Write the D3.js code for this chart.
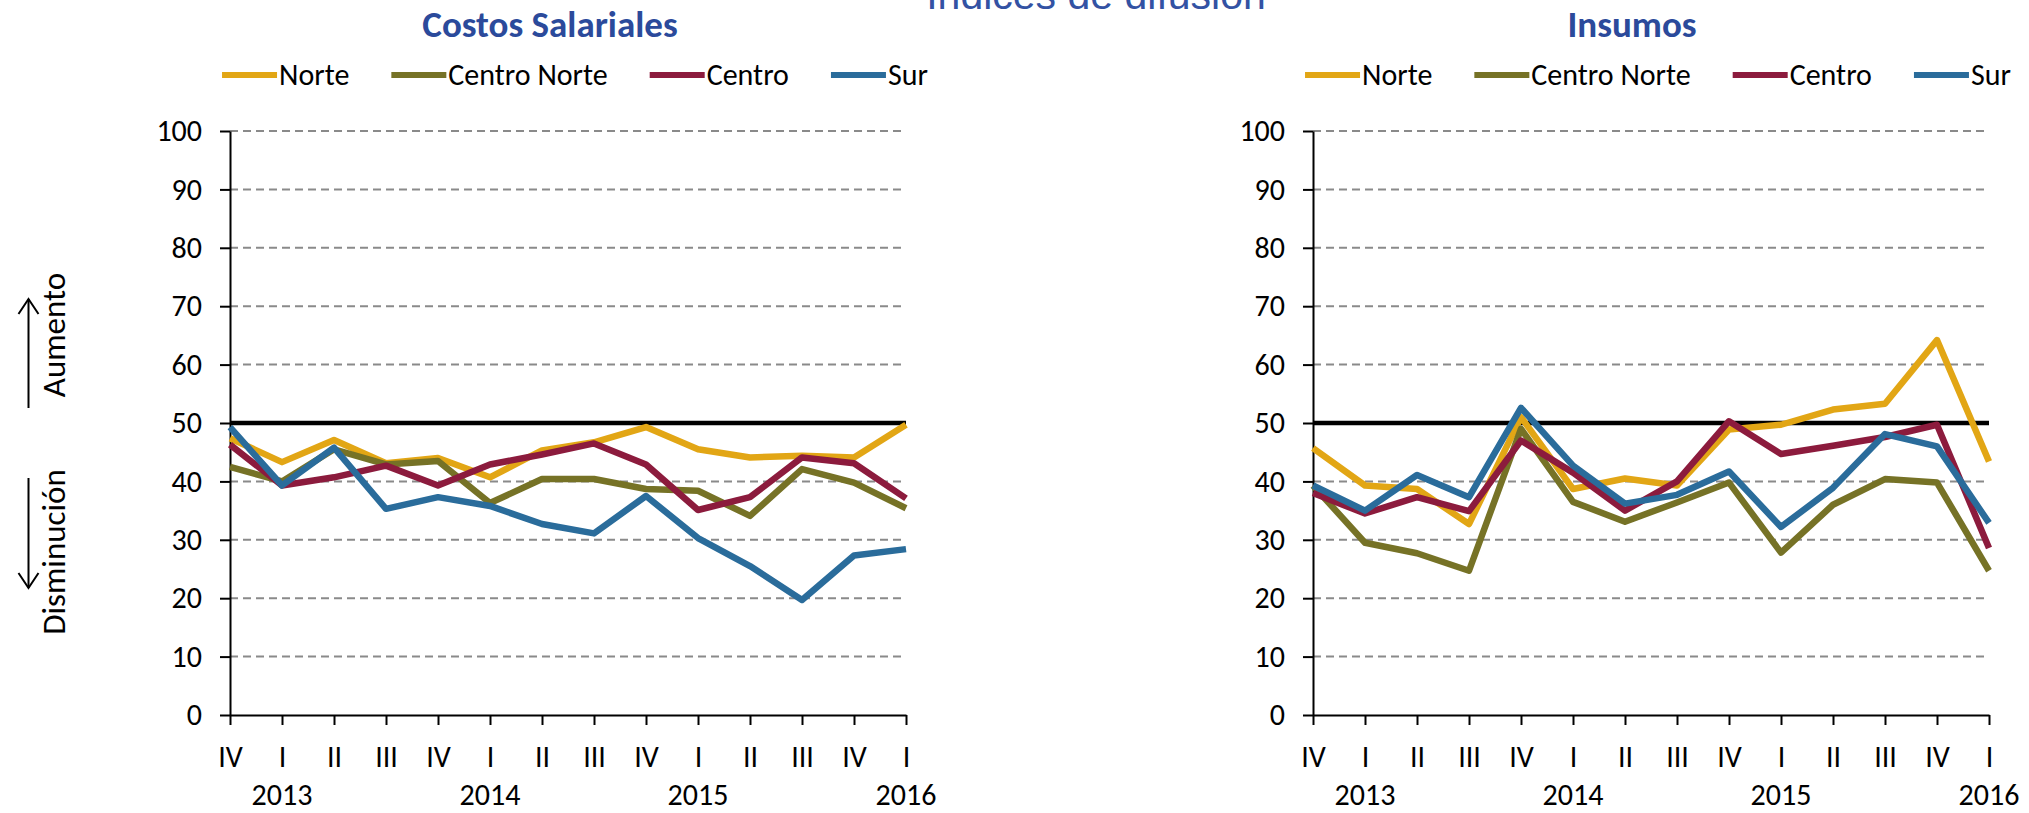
<!DOCTYPE html>
<html>
<head>
<meta charset="utf-8">
<script src="https://cdn.jsdelivr.net/npm/d3@7"></script>
<style>
  html, body { margin: 0; padding: 0; background: #fff; }
  svg text { font-family: Carlito, Lato, "Noto Sans", sans-serif; }
</style>
</head>
<body>
<svg id="chart" width="2029" height="813"></svg>
<script>
// Quarters shown on the x axis (year-quarter)
const periods = ["2012-IV", "2013-I", "2013-II", "2013-III", "2013-IV",
                 "2014-I", "2014-II", "2014-III", "2014-IV",
                 "2015-I", "2015-II", "2015-III", "2015-IV", "2016-I"];

const regions = ["Norte", "Centro Norte", "Centro", "Sur"];
const regionColors = ["#E2A615", "#767226", "#8C1B3D", "#2A6C9B"];

const yTicks = [0, 10, 20, 30, 40, 50, 60, 70, 80, 90, 100];
const threshold = 50;

// Costos Salariales
const salNorte       = [47.4, 43.3, 47.1, 43.1, 44.0, 40.7, 45.3, 46.7, 49.3, 45.5, 44.1, 44.4, 44.1, 49.7];
const salCentroNorte = [42.5, 40.0, 45.5, 42.9, 43.5, 36.3, 40.4, 40.4, 38.7, 38.4, 34.1, 42.1, 39.8, 35.4];
const salCentro      = [46.3, 39.3, 40.7, 42.7, 39.3, 42.9, 44.6, 46.5, 42.9, 35.1, 37.3, 44.1, 43.1, 37.1];
const salSur         = [49.3, 39.3, 45.8, 35.3, 37.3, 35.8, 32.7, 31.1, 37.5, 30.3, 25.5, 19.7, 27.3, 28.4];

// Insumos
const insNorte       = [45.7, 39.3, 38.7, 32.7, 51.0, 38.7, 40.5, 39.3, 48.9, 49.7, 52.3, 53.3, 64.2, 43.4];
const insCentroNorte = [39.3, 29.5, 27.7, 24.7, 49.0, 36.5, 33.1, 36.4, 39.8, 27.8, 36.0, 40.4, 39.8, 24.7];
const insCentro      = [38.0, 34.5, 37.3, 34.9, 47.0, 41.5, 35.0, 40.0, 50.3, 44.7, 46.1, 47.6, 49.7, 28.6];
const insSur         = [39.3, 35.0, 41.1, 37.3, 52.6, 42.7, 36.2, 37.7, 41.7, 32.2, 38.9, 48.1, 46.0, 32.9];

const panels = [
  { title: "Costos Salariales", series: [salNorte, salCentroNorte, salCentro, salSur],
    left: 230, right: 906, titleX: 550 },
  { title: "Insumos", series: [insNorte, insCentroNorte, insCentro, insSur],
    left: 1313, right: 1989, titleX: 1632 }
];

const plotTop = 131, plotBottom = 715;
const labelFont = "Carlito, Lato, 'Noto Sans', sans-serif";
const svg = d3.select("#chart");

svg.append("rect").attr("width", 2029).attr("height", 813).attr("fill", "#fff");

// Overall heading, partly clipped by the top edge
svg.append("text")
  .attr("x", 1096).attr("y", 9)
  .attr("text-anchor", "middle")
  .style("font-family", "'Liberation Sans', Arial, sans-serif")
  .style("font-size", "41px")
  .attr("fill", "#3352A3")
  .text("Índices de difusión");

// Direction hints on the far left
const hint = svg.append("g");
function arrow(x, yFrom, yTo) {
  hint.append("line").attr("x1", x).attr("x2", x).attr("y1", yFrom).attr("y2", yTo)
    .attr("stroke", "#000").attr("stroke-width", 2);
  const dir = yTo < yFrom ? 1 : -1;
  hint.append("path")
    .attr("d", `M${x - 10},${yTo + dir * 15} L${x},${yTo} L${x + 10},${yTo + dir * 15}`)
    .attr("fill", "none").attr("stroke", "#000").attr("stroke-width", 2);
}
arrow(28.5, 408, 299);
arrow(28.5, 478, 588);
hint.append("text")
  .attr("transform", "translate(65,335) rotate(-90)")
  .attr("text-anchor", "middle")
  .style("font-size", "33px")
  .text("Aumento");
hint.append("text")
  .attr("transform", "translate(65,552) rotate(-90)")
  .attr("text-anchor", "middle")
  .style("font-size", "33px")
  .text("Disminución");

panels.forEach(p => {
  const g = svg.append("g");
  const x = d3.scalePoint().domain(periods).range([p.left, p.right]);
  const y = d3.scaleLinear().domain([0, 100]).range([plotBottom, plotTop]);

  // Title
  g.append("text")
    .attr("x", p.titleX).attr("y", 37)
    .attr("text-anchor", "middle")
    .style("font-size", "37px").style("font-weight", "bold")
    .attr("fill", "#2B4A9B")
    .text(p.title);

  // Legend, centred over the plot
  const legend = g.append("g");
  let cursor = 0;
  const gap = 42;
  regions.forEach((name, i) => {
    const item = legend.append("g").attr("transform", `translate(${cursor},0)`);
    item.append("line").attr("x1", 0).attr("x2", 55).attr("y1", 75).attr("y2", 75)
      .attr("stroke", regionColors[i]).attr("stroke-width", 6);
    const t = item.append("text").attr("x", 57).attr("y", 85)
      .style("font-size", "30px").attr("fill", "#000").text(name);
    cursor += 57 + t.node().getComputedTextLength() + gap;
  });
  const legendWidth = cursor - gap;
  const legendCenter = (p.left + p.right) / 2 + 7;
  legend.attr("transform", `translate(${legendCenter - legendWidth / 2},0)`);

  // Dashed gridlines
  g.append("g").selectAll("line")
    .data(yTicks.filter(v => v > 0))
    .join("line")
    .attr("x1", p.left).attr("x2", p.right)
    .attr("y1", d => y(d)).attr("y2", d => y(d))
    .attr("stroke", "#8a8a8a").attr("stroke-width", 2)
    .attr("stroke-dasharray", "8,5");

  // Neutral 50 reference line
  g.append("line")
    .attr("x1", p.left).attr("x2", p.right)
    .attr("y1", y(threshold)).attr("y2", y(threshold))
    .attr("stroke", "#000").attr("stroke-width", 4.5);

  // Y axis
  const yAxis = g.append("g")
    .attr("transform", `translate(${p.left},0)`)
    .call(d3.axisLeft(y).tickValues(yTicks).tickSize(10).tickSizeOuter(0).tickPadding(18));
  yAxis.select(".domain").attr("stroke", "#000").attr("stroke-width", 2);
  yAxis.selectAll(".tick line").attr("stroke", "#000").attr("stroke-width", 2);
  yAxis.selectAll(".tick text")
    .style("font-family", labelFont)
    .style("font-size", "30px").attr("fill", "#000");

  // X axis
  const xAxis = g.append("g")
    .attr("transform", `translate(0,${plotBottom})`)
    .call(d3.axisBottom(x).tickSize(10).tickSizeOuter(0)
      .tickFormat(d => d.split("-")[1]));
  xAxis.select(".domain").attr("stroke", "#000").attr("stroke-width", 2);
  xAxis.selectAll(".tick line").attr("stroke", "#000").attr("stroke-width", 2);
  xAxis.selectAll(".tick text")
    .attr("dy", null).attr("y", 52)
    .style("font-family", labelFont)
    .style("font-size", "30px").attr("fill", "#000");

  // Year labels under each first quarter
  g.append("g").selectAll("text")
    .data(periods.filter(d => d.endsWith("-I")))
    .join("text")
    .attr("x", d => x(d)).attr("y", plotBottom + 90)
    .attr("text-anchor", "middle")
    .style("font-size", "30px").attr("fill", "#000")
    .text(d => d.split("-")[0]);

  // Region lines
  const line = d3.line().x((d, i) => x(periods[i])).y(d => y(d));
  p.series.forEach((vals, i) => {
    g.append("path")
      .datum(vals)
      .attr("d", line)
      .attr("fill", "none")
      .attr("stroke", regionColors[i])
      .attr("stroke-width", 6.5)
      .attr("stroke-linejoin", "round");
  });
});
</script>
</body>
</html>
